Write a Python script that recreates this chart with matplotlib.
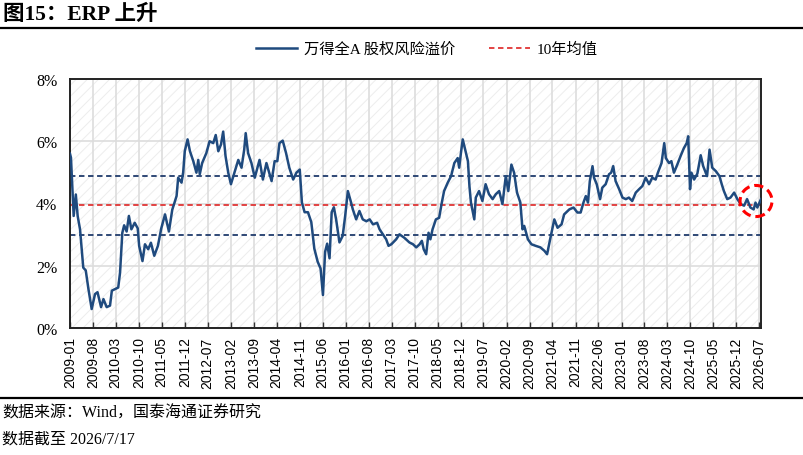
import matplotlib
matplotlib.use('Agg')
import matplotlib.pyplot as plt
import matplotlib.dates as mdates
from matplotlib.lines import Line2D
from matplotlib.patches import Rectangle, Ellipse
import pandas as pd

# 万得全A 股权风险溢价 (%)
erp_dates = [
    '2009-01-01', '2009-01-10', '2009-01-18', '2009-02-04', '2009-02-24', '2009-03-13',
    '2009-04-04', '2009-05-04', '2009-05-27', '2009-06-21', '2009-07-21', '2009-08-21',
    '2009-09-13', '2009-10-16', '2009-11-07', '2009-12-07', '2010-01-07', '2010-01-24',
    '2010-03-24', '2010-04-10', '2010-05-01', '2010-05-18', '2010-06-10', '2010-07-01',
    '2010-07-24', '2010-08-24', '2010-09-21', '2010-10-04', '2010-11-04', '2010-11-27',
    '2010-12-27', '2011-01-21', '2011-02-21', '2011-03-27', '2011-04-27', '2011-06-01',
    '2011-07-07', '2011-08-07', '2011-09-16', '2011-10-01', '2011-11-01', '2011-11-16',
    '2011-12-01', '2011-12-27', '2012-01-18', '2012-02-18', '2012-03-18', '2012-04-04',
    '2012-04-18', '2012-05-10', '2012-06-18', '2012-07-18', '2012-08-21', '2012-09-13',
    '2012-10-07', '2012-11-01', '2012-11-21', '2012-12-13', '2013-01-07', '2013-02-01',
    '2013-03-01', '2013-04-10', '2013-05-10', '2013-06-04', '2013-06-18', '2013-07-10',
    '2013-08-10', '2013-09-10', '2013-10-24', '2013-11-24', '2013-12-27', '2014-02-13',
    '2014-03-13', '2014-04-07', '2014-04-27', '2014-05-27', '2014-06-27', '2014-07-27',
    '2014-09-01', '2014-10-01', '2014-11-01', '2014-11-21', '2014-12-16', '2015-01-16',
    '2015-02-16', '2015-03-16', '2015-04-16', '2015-05-13', '2015-06-04', '2015-06-24',
    '2015-07-13', '2015-08-04', '2015-08-24', '2015-09-13', '2015-10-04', '2015-11-04',
    '2015-12-04', '2015-12-27', '2016-01-21', '2016-02-16', '2016-03-07', '2016-04-07',
    '2016-05-07', '2016-06-07', '2016-07-10', '2016-08-10', '2016-09-10', '2016-10-18',
    '2016-11-10', '2016-12-10', '2017-01-10', '2017-02-01', '2017-02-27', '2017-04-13',
    '2017-05-13', '2017-06-27', '2017-08-13', '2017-09-16', '2017-10-16', '2017-11-16',
    '2017-12-07', '2017-12-24', '2018-01-16', '2018-02-07', '2018-02-24', '2018-03-16',
    '2018-04-16', '2018-05-16', '2018-06-10', '2018-07-01', '2018-08-04', '2018-09-04',
    '2018-10-04', '2018-11-04', '2018-11-18', '2018-12-04', '2018-12-21', '2019-01-13',
    '2019-02-07', '2019-02-21', '2019-03-07', '2019-04-07', '2019-04-21', '2019-05-21',
    '2019-06-21', '2019-07-21', '2019-08-21', '2019-09-24', '2019-10-24', '2019-11-24',
    '2019-12-24', '2020-01-24', '2020-02-16', '2020-03-16', '2020-04-10', '2020-05-07',
    '2020-06-07', '2020-06-27', '2020-07-13', '2020-08-16', '2020-09-18', '2020-10-27',
    '2020-12-10', '2021-01-16', '2021-02-10', '2021-03-13', '2021-04-18', '2021-05-18',
    '2021-06-24', '2021-07-18', '2021-09-04', '2021-10-13', '2021-11-18', '2021-12-18',
    '2022-01-13', '2022-02-04', '2022-02-24', '2022-03-13', '2022-04-07', '2022-04-21',
    '2022-05-16', '2022-06-16', '2022-07-07', '2022-08-07', '2022-09-07', '2022-09-27',
    '2022-10-16', '2022-11-07', '2022-12-10', '2023-01-10', '2023-02-10', '2023-03-10',
    '2023-04-10', '2023-05-13', '2023-06-13', '2023-07-13', '2023-08-13', '2023-09-13',
    '2023-10-13', '2023-11-13', '2023-12-04', '2024-01-07', '2024-02-01', '2024-02-16',
    '2024-03-16', '2024-04-07', '2024-05-01', '2024-06-01', '2024-07-01', '2024-08-01',
    '2024-08-27', '2024-09-10', '2024-09-27', '2024-10-10', '2024-11-04', '2024-12-04',
    '2025-01-04', '2025-01-27', '2025-03-04', '2025-03-27', '2025-04-21', '2025-05-24',
    '2025-06-27', '2025-07-18', '2025-08-07', '2025-09-07', '2025-10-07', '2025-11-10',
    '2025-12-10', '2026-01-10', '2026-02-10', '2026-03-10', '2026-04-10', '2026-05-10',
    '2026-05-27', '2026-06-13', '2026-07-17',
]
erp_values = [
    5.60, 5.47, 4.88, 3.60, 4.29, 3.60,
    3.17, 1.94, 1.85, 1.25, 0.61, 1.09,
    1.15, 0.67, 0.93, 0.67, 0.72, 1.20,
    1.30, 1.78, 3.06, 3.30, 3.10, 3.60,
    3.17, 3.38, 3.20, 2.64, 2.15, 2.69,
    2.53, 2.74, 2.32, 2.64, 3.20, 3.65,
    3.10, 3.80, 4.24, 4.83, 4.67, 4.99,
    5.68, 6.06, 5.68, 5.36, 4.99, 5.40,
    4.94, 5.30, 5.62, 6.00, 5.94, 6.20,
    5.68, 5.90, 6.31, 5.52, 4.99, 4.62,
    4.94, 5.40, 5.15, 5.73, 6.26, 5.62,
    5.30, 4.83, 5.40, 4.77, 5.30, 4.72,
    5.36, 5.36, 5.94, 6.02, 5.62, 5.15,
    4.77, 4.99, 5.09, 4.03, 3.72, 3.72,
    3.40, 2.55, 2.13, 1.91, 1.06, 2.45,
    2.71, 2.24, 3.72, 3.88, 3.49, 2.75,
    2.96, 3.60, 4.40, 4.08, 3.81, 3.49,
    3.76, 3.49, 3.43, 3.49, 3.33, 3.38,
    3.17, 3.01, 2.85, 2.64, 2.69, 2.85,
    3.01, 2.90, 2.75, 2.69, 2.59, 2.69,
    2.80, 2.53, 2.37, 3.06, 2.85, 3.17,
    3.49, 3.54, 4.03, 4.40, 4.67, 4.88,
    5.30, 5.46, 5.15, 5.62, 6.06, 5.73,
    5.36, 4.56, 4.03, 3.49, 4.19, 4.40,
    4.08, 4.62, 4.30, 4.14, 4.30, 4.40,
    3.98, 4.88, 4.40, 5.25, 4.99, 4.35,
    4.03, 3.17, 3.28, 2.85, 2.69, 2.64,
    2.59, 2.48, 2.37, 2.90, 3.49, 3.22,
    3.33, 3.65, 3.81, 3.87, 3.71, 3.71,
    4.03, 4.24, 4.03, 4.72, 5.20, 4.83,
    4.62, 4.14, 4.51, 4.62, 4.94, 4.99,
    5.20, 4.72, 4.46, 4.19, 4.14, 4.19,
    4.08, 4.35, 4.46, 4.56, 4.83, 4.62,
    4.83, 4.77, 4.99, 5.30, 5.94, 5.46,
    5.30, 5.36, 4.99, 5.25, 5.52, 5.78,
    5.94, 6.16, 4.46, 4.99, 4.77, 4.96,
    5.55, 5.20, 4.88, 5.73, 5.15, 5.04,
    4.88, 4.62, 4.40, 4.14, 4.19, 4.35,
    4.14, 3.98, 3.93, 4.14, 3.87, 3.81,
    4.03, 3.87, 4.14,
]

mean_10y = 3.95
upper_band = 4.88
lower_band = 2.99

tick_dates = pd.date_range('2009-01-01', '2026-07-01', freq='7MS')
tick_labels = [d.strftime('%Y-%m') for d in tick_dates]
y_ticks = [0, 2, 4, 6, 8]

# highlighted latest value (red dashed circle)
mark_date = '2026-06-01'
mark_value = 4.08

cjk = ['Liberation Serif', 'Noto Sans CJK SC']
plt.rcParams['hatch.linewidth'] = 0.7

x = pd.to_datetime(erp_dates)
blue = '#1f4a7e'
navy = '#1f3a6b'
red = '#e03535'

fig = plt.figure(figsize=(8.04, 4.56), dpi=100)
ax = fig.add_axes([70 / 804, 1 - 329 / 456, 691 / 804, 249 / 456])

# light diagonal hatch behind the plot
ax.add_patch(Rectangle((0, 0), 1, 1, transform=ax.transAxes, facecolor='white',
                       edgecolor='#ededed', hatch='///', linewidth=0, zorder=0.1))

ax.plot(x, erp_values, color=blue, linewidth=1.8, zorder=3, label='万得全A 股权风险溢价')
ax.axhline(upper_band, color=navy, linestyle=(0, (3, 2)), linewidth=1.3, zorder=2)
ax.axhline(lower_band, color=navy, linestyle=(0, (3, 2)), linewidth=1.3, zorder=2)
ax.axhline(mean_10y, color=red, linestyle=(0, (3, 2)), linewidth=1.3, zorder=2, label='10年均值')

ax.add_patch(Ellipse((mdates.date2num(pd.Timestamp(mark_date)), mark_value), 296, 1.0,
                     facecolor='none', edgecolor='#ff0000', linewidth=2.2,
                     linestyle=(0, (3, 1.6)), zorder=4, clip_on=False))

ax.set_xlim(pd.Timestamp('2009-01-01'), pd.Timestamp('2026-07-17'))
ax.set_ylim(0, 8)
ax.set_xticks(tick_dates)
ax.set_xticklabels(tick_labels, rotation=90, fontsize=10, family='Liberation Sans')
ax.set_yticks(y_ticks)
ax.set_yticklabels([f'{v}%' for v in y_ticks], fontsize=11.5, family='Liberation Serif')
ax.tick_params(axis='x', direction='in', length=4, width=1, color='#333333', pad=6)
ax.tick_params(axis='y', length=0, pad=9)

ax.set_axisbelow(True)
ax.grid(color='#dddddd', linewidth=1.2)
for s in ax.spines.values():
    s.set_color('#222222')
    s.set_linewidth(1.4)

leg = fig.legend(loc='center', bbox_to_anchor=(427 / 804, 1 - 50 / 456), ncol=2,
                 frameon=False, handlelength=2.7, handletextpad=0.45, columnspacing=2.2,
                 prop={'family': cjk, 'size': 11})

# title and footer
fig.text(3 / 804, 1 - 15 / 456, '图15：ERP 上升', fontsize=15.5, fontweight='bold',
         family=cjk, va='center', ha='left')
fig.add_artist(Line2D([0, 1], [1 - 29 / 456, 1 - 29 / 456], color='black', linewidth=1.6))
fig.add_artist(Line2D([0, 1], [1 - 399 / 456, 1 - 399 / 456], color='black', linewidth=1.6))
fig.text(2 / 804, 1 - 414 / 456, '数据来源：Wind，国泰海通证券研究', fontsize=11.5,
         family=cjk, va='center', ha='left')
fig.text(2 / 804, 1 - 440 / 456, '数据截至 2026/7/17', fontsize=11.5,
         family=cjk, va='center', ha='left')

fig.savefig('out.png', dpi=100)
